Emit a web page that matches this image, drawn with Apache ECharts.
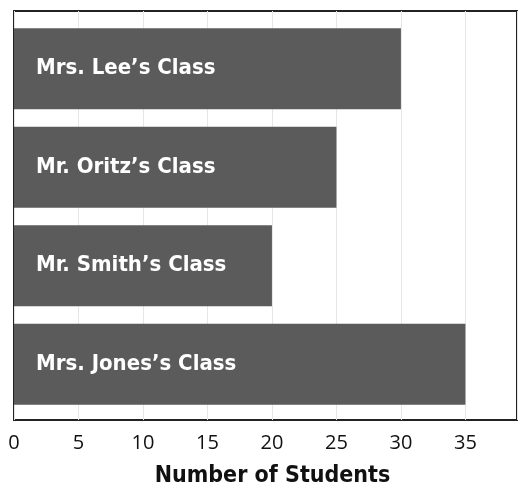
<!DOCTYPE html>
<html>
<head>
<meta charset="utf-8">
<script src="https://cdn.jsdelivr.net/npm/echarts@6/dist/echarts.min.js"></script>
<style>
  html, body { margin: 0; padding: 0; background: #fff; }
  #chart { width: 527px; height: 490px; }
</style>
</head>
<body>
<div id="chart"></div>
<script>
const classes = ["Mrs. Lee\u2019s Class", "Mr. Oritz\u2019s Class", "Mr. Smith\u2019s Class", "Mrs. Jones\u2019s Class"];
const students = [30, 25, 20, 35];
const tickStep = 5;
const axisMax = 39;

const condensed = "'Liberation Sans Narrow', 'DejaVu Sans Condensed', sans-serif";

const chart = echarts.init(document.getElementById("chart"));

// grid 0 is the framed box with the axis; grid 1 is inset a little so the bars
// keep the white margin above the first and below the last bar
chart.setOption({
  animation: false,
  grid: [
    { left: 14, right: 10, top: 11, bottom: 70, show: true, borderColor: "#222", borderWidth: 2, outerBoundsMode: "none" },
    { left: 14, right: 10, top: 19.5, bottom: 76.5, outerBoundsMode: "none" },
  ],
  xAxis: [
    {
      gridIndex: 0,
      type: "value",
      min: 0,
      max: axisMax,
      interval: tickStep,
      name: "Number of Students",
      nameLocation: "middle",
      nameGap: 45,
      nameTextStyle: { color: "#111", fontFamily: condensed, fontWeight: "bold", fontSize: 23, padding: [0, 0, 0, 14] },
      axisLine: { show: false },
      axisTick: { show: false },
      axisLabel: {
        color: "#111",
        fontFamily: "'Open Sans', sans-serif",
        fontSize: 20,
        margin: 13,
        showMaxLabel: false,
        formatter: (v) => (v % tickStep === 0 ? String(v) : ""),
      },
      splitLine: { show: true, lineStyle: { color: "#e6e6e6", width: 1 } },
    },
    { gridIndex: 1, type: "value", min: 0, max: axisMax, show: false },
  ],
  yAxis: [
    { gridIndex: 0, type: "value", show: false },
    {
      gridIndex: 1,
      type: "category",
      data: classes,
      inverse: true,
      axisLine: { show: false },
      axisTick: { show: false },
      axisLabel: { show: false },
    },
  ],
  series: [
    {
      type: "bar",
      xAxisIndex: 1,
      yAxisIndex: 1,
      data: students,
      barWidth: "82%",
      itemStyle: { color: "#5b5b5b" },
      label: {
        show: true,
        position: "insideLeft",
        distance: 22,
        formatter: (p) => p.name,
        color: "#fff",
        fontFamily: condensed,
        fontWeight: "bold",
        fontSize: 22,
      },
    },
  ],
});
</script>
</body>
</html>
